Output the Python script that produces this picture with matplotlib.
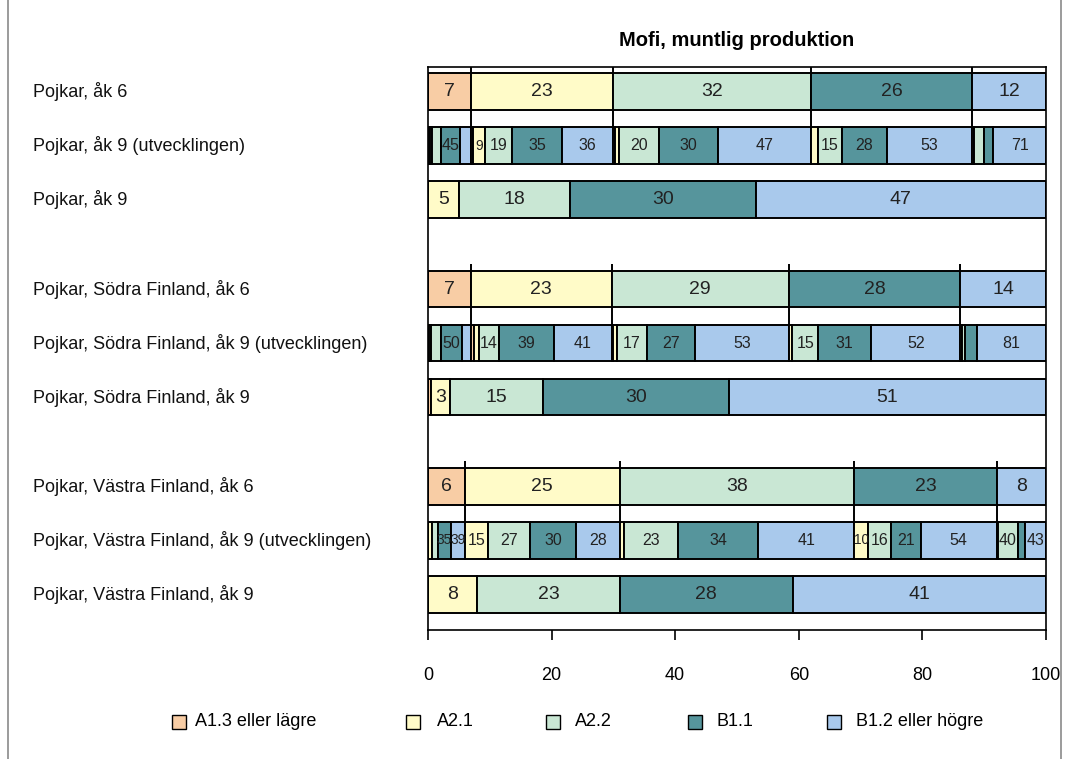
import matplotlib
matplotlib.use("Agg")
import matplotlib.pyplot as plt
import matplotlib.transforms as mtransforms
from matplotlib.patches import Rectangle
from matplotlib.lines import Line2D
import numpy as np

plt.rcParams["font.family"] = ["Liberation Sans", "DejaVu Sans"]

# --- data -------------------------------------------------------------
levels = ["A1.3 eller lägre", "A2.1", "A2.2", "B1.1", "B1.2 eller högre"]
colors = ["#F8CDA5", "#FFFBC8", "#C9E7D4", "#56959C", "#A9C9EC"]

row_labels = [
    "Pojkar, åk 6",
    "Pojkar, åk 9 (utvecklingen)",
    "Pojkar, åk 9",
    "Pojkar, Södra Finland, åk 6",
    "Pojkar, Södra Finland, åk 9 (utvecklingen)",
    "Pojkar, Södra Finland, åk 9",
    "Pojkar, Västra Finland, åk 6",
    "Pojkar, Västra Finland, åk 9 (utvecklingen)",
    "Pojkar, Västra Finland, åk 9",
]
row_pos = [0, 1, 2, 3.65, 4.65, 5.65, 7.3, 8.3, 9.3]

# share (%) per level, åk 6
ak6_total = [7, 23, 32, 26, 12]
ak6_sodra = [7, 23, 29, 28, 14]
ak6_vastra = [6, 25, 38, 23, 8]

# share (%) per level, åk 9
ak9_total = [0, 5, 18, 30, 47]
ak9_sodra = [0.5, 3, 15, 30, 51]
ak9_vastra = [0, 8, 23, 28, 41]

# åk 9 level (columns) for each åk 6 level (rows)
dev_total = [
    [4, 6, 20, 45, 25],
    [1, 9, 19, 35, 36],
    [1, 2, 20, 30, 47],
    [0, 4, 15, 28, 53],
    [0, 3, 13, 13, 71],
]
dev_sodra = [
    [3, 4, 23, 50, 20],
    [2, 4, 14, 39, 41],
    [1, 2, 17, 27, 53],
    [0, 2, 15, 31, 52],
    [0, 2, 4, 13, 81],
]
dev_vastra = [
    [0, 10, 16, 35, 39],
    [0, 15, 27, 30, 28],
    [0, 2, 23, 34, 41],
    [0, 10, 16, 21, 54],
    [0, 3, 40, 14, 43],
]

groups = [
    (ak6_total, dev_total, ak9_total),
    (ak6_sodra, dev_sodra, ak9_sodra),
    (ak6_vastra, dev_vastra, ak9_vastra),
]

# --- figure -----------------------------------------------------------
fig = plt.figure(figsize=(10.66, 7.59), dpi=100)
ax = fig.add_axes([0.4015, 0.170, 0.5797, 0.7418])

H = 0.68
LW = 1.4
MIN_LABEL = 1.9


def draw_segments(y, lefts, widths, vals, fsize):
    for left, w, v, c in zip(lefts, widths, vals, colors):
        if w <= 0:
            continue
        ax.barh(y, w, left=left, height=H, color=c, edgecolor="black",
                linewidth=LW, zorder=2)
        if w >= MIN_LABEL:
            fs = fsize if w >= 2.6 else fsize * 0.85  # squeeze narrow cells
            ax.text(left + w / 2, y, f"{int(round(v))}", ha="center",
                    va="center", fontsize=fs, color="#222222", zorder=3)


for gi, (ak6, dev, ak9) in enumerate(groups):
    y6, yd, y9 = row_pos[3 * gi], row_pos[3 * gi + 1], row_pos[3 * gi + 2]

    # åk 6 bar
    w6 = np.array(ak6, float) / sum(ak6) * 100
    l6 = np.concatenate([[0], np.cumsum(w6)[:-1]])
    draw_segments(y6, l6, w6, ak6, 14)

    # connector lines between åk 6 groups and development bar
    for b in np.cumsum(w6)[:-1]:
        ax.plot([b, b], [y6 - H / 2 - 0.13, yd - H / 2], color="black",
                lw=LW, zorder=1, solid_capstyle="butt")

    # development bar
    for k, sub in enumerate(dev):
        sub = np.array(sub, float)
        ws = sub / sub.sum() * w6[k]
        ls = l6[k] + np.concatenate([[0], np.cumsum(ws)[:-1]])
        draw_segments(yd, ls, ws, sub, 11.5)

    # åk 9 bar
    w9 = np.array(ak9, float) / sum(ak9) * 100
    l9 = np.concatenate([[0], np.cumsum(w9)[:-1]])
    draw_segments(y9, l9, w9, ak9, 14)

ax.set_xlim(0, 100)
ax.set_ylim(9.96, -0.46)
ax.set_xticks([0, 20, 40, 60, 80, 100])
ax.tick_params(axis="x", labelsize=13, length=7, width=1.2, pad=20)
ax.set_yticks([])
for s in ax.spines.values():
    s.set_linewidth(1.2)

trans = mtransforms.blended_transform_factory(fig.transFigure, ax.transData)
for lab, y in zip(row_labels, row_pos):
    ax.text(33 / 1066, y, lab, transform=trans, ha="left", va="center",
            fontsize=13, color="#111111")

fig.text(737 / 1066, 1 - 40 / 759, "Mofi, muntlig produktion", ha="center",
         va="center", fontsize=14.5, fontweight="bold")

# legend
sq_x = [172, 406, 546, 688, 827]
tx_x = [195, 437, 575, 716, 856]
ly = 722
for sx, tx, c, name in zip(sq_x, tx_x, colors, levels):
    fig.add_artist(Rectangle((sx / 1066, 1 - (ly + 7) / 759), 14 / 1066,
                             14 / 759, facecolor=c, edgecolor="black",
                             linewidth=1.0, transform=fig.transFigure))
    fig.text(tx / 1066, 1 - ly / 759, name, ha="left", va="center",
             fontsize=13)

# outer frame lines
for fx in (8 / 1066, 1061 / 1066):
    fig.add_artist(Line2D([fx, fx], [0, 1], color="#8a8a8a", lw=1.2,
                          transform=fig.transFigure))

fig.savefig("out.png", dpi=100)
